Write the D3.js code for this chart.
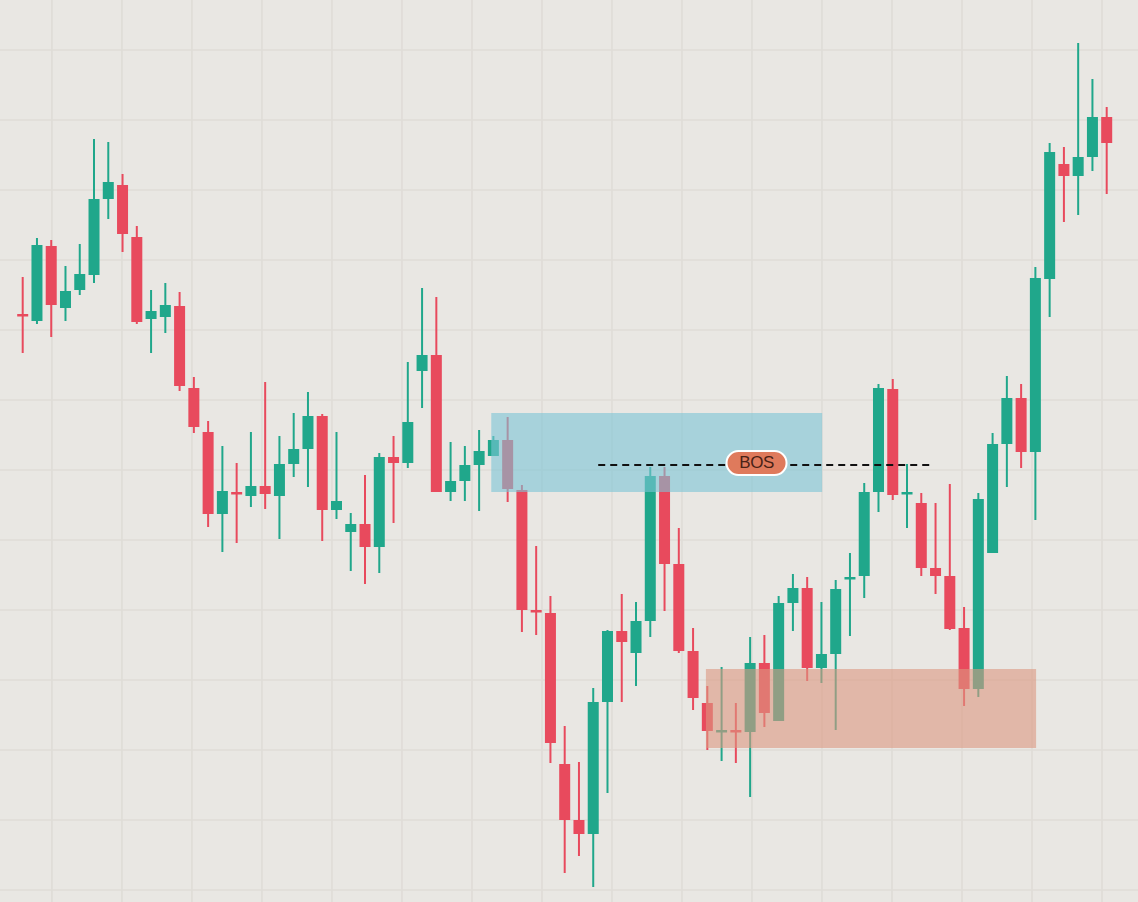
<!DOCTYPE html>
<html>
<head>
<meta charset="utf-8">
<script src="https://cdn.jsdelivr.net/npm/d3@7"></script>
<style>
  html, body { margin: 0; padding: 0; background: #e9e7e3; }
</style>
</head>
<body>
<div id="chart"></div>
<script>
// OHLC values (one entry per candle)
const open  = [58.6, 57.9, 65.4, 59.2, 61.0, 62.5, 70.1, 71.5, 66.3, 58.1,
               58.3, 59.4, 51.2, 46.8, 38.6, 40.8, 40.4, 41.4, 40.4, 43.6,
               45.1, 48.4, 39.0, 36.8, 37.6, 35.3, 44.3, 43.7, 52.9, 54.5,
               40.8, 41.9, 43.5, 44.4, 46.0, 41.0, 29.0, 28.7, 13.6, 8.0,
               6.6, 19.8, 26.9, 24.7, 27.9, 42.4, 33.6, 24.9, 19.7, 16.9,
               17.0, 16.8, 23.7, 17.9, 29.7, 31.2, 23.2, 24.6, 32.1, 32.4,
               40.8, 51.1, 40.6, 39.7, 33.2, 32.4, 27.2, 21.1, 34.7, 45.6,
               50.2, 44.8, 62.1, 73.6, 72.4, 74.3, 78.3];
const high  = [62.3, 66.2, 66.0, 63.4, 65.6, 76.1, 75.8, 72.6, 67.4, 61.0,
               61.7, 60.8, 52.3, 47.9, 45.4, 43.7, 46.8, 51.8, 46.4, 48.7,
               50.8, 48.6, 46.8, 38.7, 42.5, 44.7, 46.4, 53.8, 61.2, 60.3,
               45.8, 45.4, 47.0, 46.4, 48.3, 41.5, 35.4, 30.4, 17.4, 13.8,
               21.2, 27.0, 30.6, 29.8, 43.3, 43.3, 37.2, 27.2, 21.4, 23.3,
               19.7, 26.3, 26.5, 30.4, 32.6, 32.3, 29.8, 32.0, 34.7, 41.7,
               51.6, 52.1, 43.6, 40.7, 39.7, 41.6, 29.3, 40.7, 46.7, 52.4,
               51.6, 63.3, 75.7, 75.3, 85.7, 82.1, 79.3];
const low   = [54.7, 57.6, 56.3, 57.9, 60.5, 61.7, 68.1, 64.8, 57.6, 54.7,
               56.7, 50.9, 46.7, 37.3, 34.8, 35.7, 39.3, 39.1, 36.1, 42.3,
               41.3, 35.9, 38.1, 32.9, 31.6, 32.7, 37.7, 43.2, 49.2, 40.8,
               39.9, 39.9, 38.9, 44.4, 39.8, 26.8, 26.5, 13.7, 2.7, 4.4,
               1.3, 10.7, 19.8, 21.4, 26.3, 28.9, 24.7, 19.0, 15.0, 13.9,
               13.7, 10.3, 17.3, 17.9, 26.9, 21.9, 21.7, 17.0, 26.4, 30.2,
               38.8, 40.0, 37.2, 32.4, 30.6, 27.0, 19.4, 20.3, 34.7, 41.3,
               43.2, 38.0, 58.3, 67.8, 68.5, 72.9, 70.6];
const close = [58.4, 65.5, 59.5, 60.9, 62.6, 70.1, 71.8, 66.6, 57.8, 58.9,
               59.5, 51.4, 47.3, 38.6, 40.9, 40.6, 41.4, 40.6, 43.6, 45.1,
               48.4, 39.0, 39.9, 37.6, 35.3, 44.3, 43.7, 47.8, 54.5, 40.8,
               41.9, 43.5, 44.9, 46.0, 41.1, 29.0, 28.8, 15.7, 8.0, 6.6,
               19.8, 26.9, 25.8, 27.9, 42.4, 33.6, 24.9, 20.2, 16.9, 17.0,
               16.8, 23.7, 18.7, 29.7, 31.2, 23.2, 24.6, 31.1, 32.3, 40.8,
               51.2, 40.5, 40.8, 33.2, 32.4, 27.1, 21.1, 40.1, 45.6, 50.2,
               44.8, 62.2, 74.8, 72.4, 74.3, 78.3, 75.7];

// supply / demand zones and break of structure, in candle index and price
const zoneNames  = ["supply", "demand"];
const zoneStart  = [32.85, 47.9];
const zoneEnd    = [56.05, 71.05];
const zoneTop    = [48.7, 23.1];
const zoneBottom = [40.8, 15.2];

const bosLevel = 43.5;
const bosStart = 40.35;
const bosEnd   = 63.6;
const bosLabelAt = 51.45;
const bosLabel = "BOS";

const data = open.map((o, i) => ({i: i, open: o, high: high[i], low: low[i], close: close[i]}));

const width = 1138, height = 902;

const svg = d3.select("#chart")
  .append("svg")
  .attr("width", width)
  .attr("height", height)
  .style("display", "block")
  .style("background", "#e9e7e3");

const x = d3.scaleLinear()
  .domain([0, data.length - 1])
  .range([22.7, 1106.7]);

const y = d3.scaleLinear()
  .domain([0, 90])
  .range([900, 0]);

// background grid
const grid = svg.append("g");
grid.selectAll("line.v")
  .data(d3.range(2.05, 80, 4.908))
  .enter()
  .append("line")
  .attr("class", "v")
  .attr("x1", d => x(d))
  .attr("x2", d => x(d))
  .attr("y1", 0)
  .attr("y2", height)
  .attr("stroke", "#dfdcd7")
  .attr("stroke-width", 1.6);

grid.selectAll("line.h")
  .data(d3.range(1, 92, 7))
  .enter()
  .append("line")
  .attr("class", "h")
  .attr("x1", 0)
  .attr("x2", width)
  .attr("y1", d => y(d))
  .attr("y2", d => y(d))
  .attr("stroke", "#dfdcd7")
  .attr("stroke-width", 1.6);

const up = "#20a78b", down = "#e84a5d";
const bodyW = 11;

const candles = svg.selectAll("g.candle")
  .data(data)
  .enter()
  .append("g")
  .attr("class", "candle")
  .attr("transform", d => `translate(${x(d.i)},0)`);

candles.append("line")
  .attr("y1", d => y(d.high))
  .attr("y2", d => y(d.low))
  .attr("stroke", d => d.close >= d.open ? up : down)
  .attr("stroke-width", 2);

candles.append("rect")
  .attr("x", -bodyW / 2)
  .attr("y", d => y(Math.max(d.open, d.close)))
  .attr("width", bodyW)
  .attr("height", d => Math.max(2.5, Math.abs(y(d.open) - y(d.close))))
  .attr("fill", d => d.close >= d.open ? up : down);

// zones drawn over the candles, semi transparent
const zoneColor = d3.scaleOrdinal()
  .domain(zoneNames)
  .range(["#7cc4d6", "#dc9880"]);

svg.selectAll("rect.zone")
  .data(zoneNames)
  .enter()
  .append("rect")
  .attr("class", "zone")
  .attr("x", (d, i) => x(zoneStart[i]))
  .attr("y", (d, i) => y(zoneTop[i]))
  .attr("width", (d, i) => x(zoneEnd[i]) - x(zoneStart[i]))
  .attr("height", (d, i) => y(zoneBottom[i]) - y(zoneTop[i]))
  .attr("fill", d => zoneColor(d))
  .attr("fill-opacity", 0.6);

// break of structure line + label
svg.append("line")
  .attr("x1", x(bosStart))
  .attr("x2", x(bosEnd))
  .attr("y1", y(bosLevel))
  .attr("y2", y(bosLevel))
  .attr("stroke", "#111")
  .attr("stroke-width", 2)
  .attr("stroke-dasharray", "7,5");

const label = svg.append("g")
  .attr("transform", `translate(${x(bosLabelAt)},${y(bosLevel) - 2})`);

label.append("rect")
  .attr("x", -30)
  .attr("y", -12)
  .attr("width", 60)
  .attr("height", 24)
  .attr("rx", 12)
  .attr("fill", "#df7a5c")
  .attr("stroke", "#fff")
  .attr("stroke-width", 2);

label.append("text")
  .attr("y", 1)
  .attr("text-anchor", "middle")
  .attr("dominant-baseline", "middle")
  .style("font-family", "'Liberation Sans', Arial, sans-serif")
  .style("font-size", "17px")
  .style("letter-spacing", "-0.5px")
  .attr("fill", "#4a2216")
  .text(bosLabel);
</script>
</body>
</html>
